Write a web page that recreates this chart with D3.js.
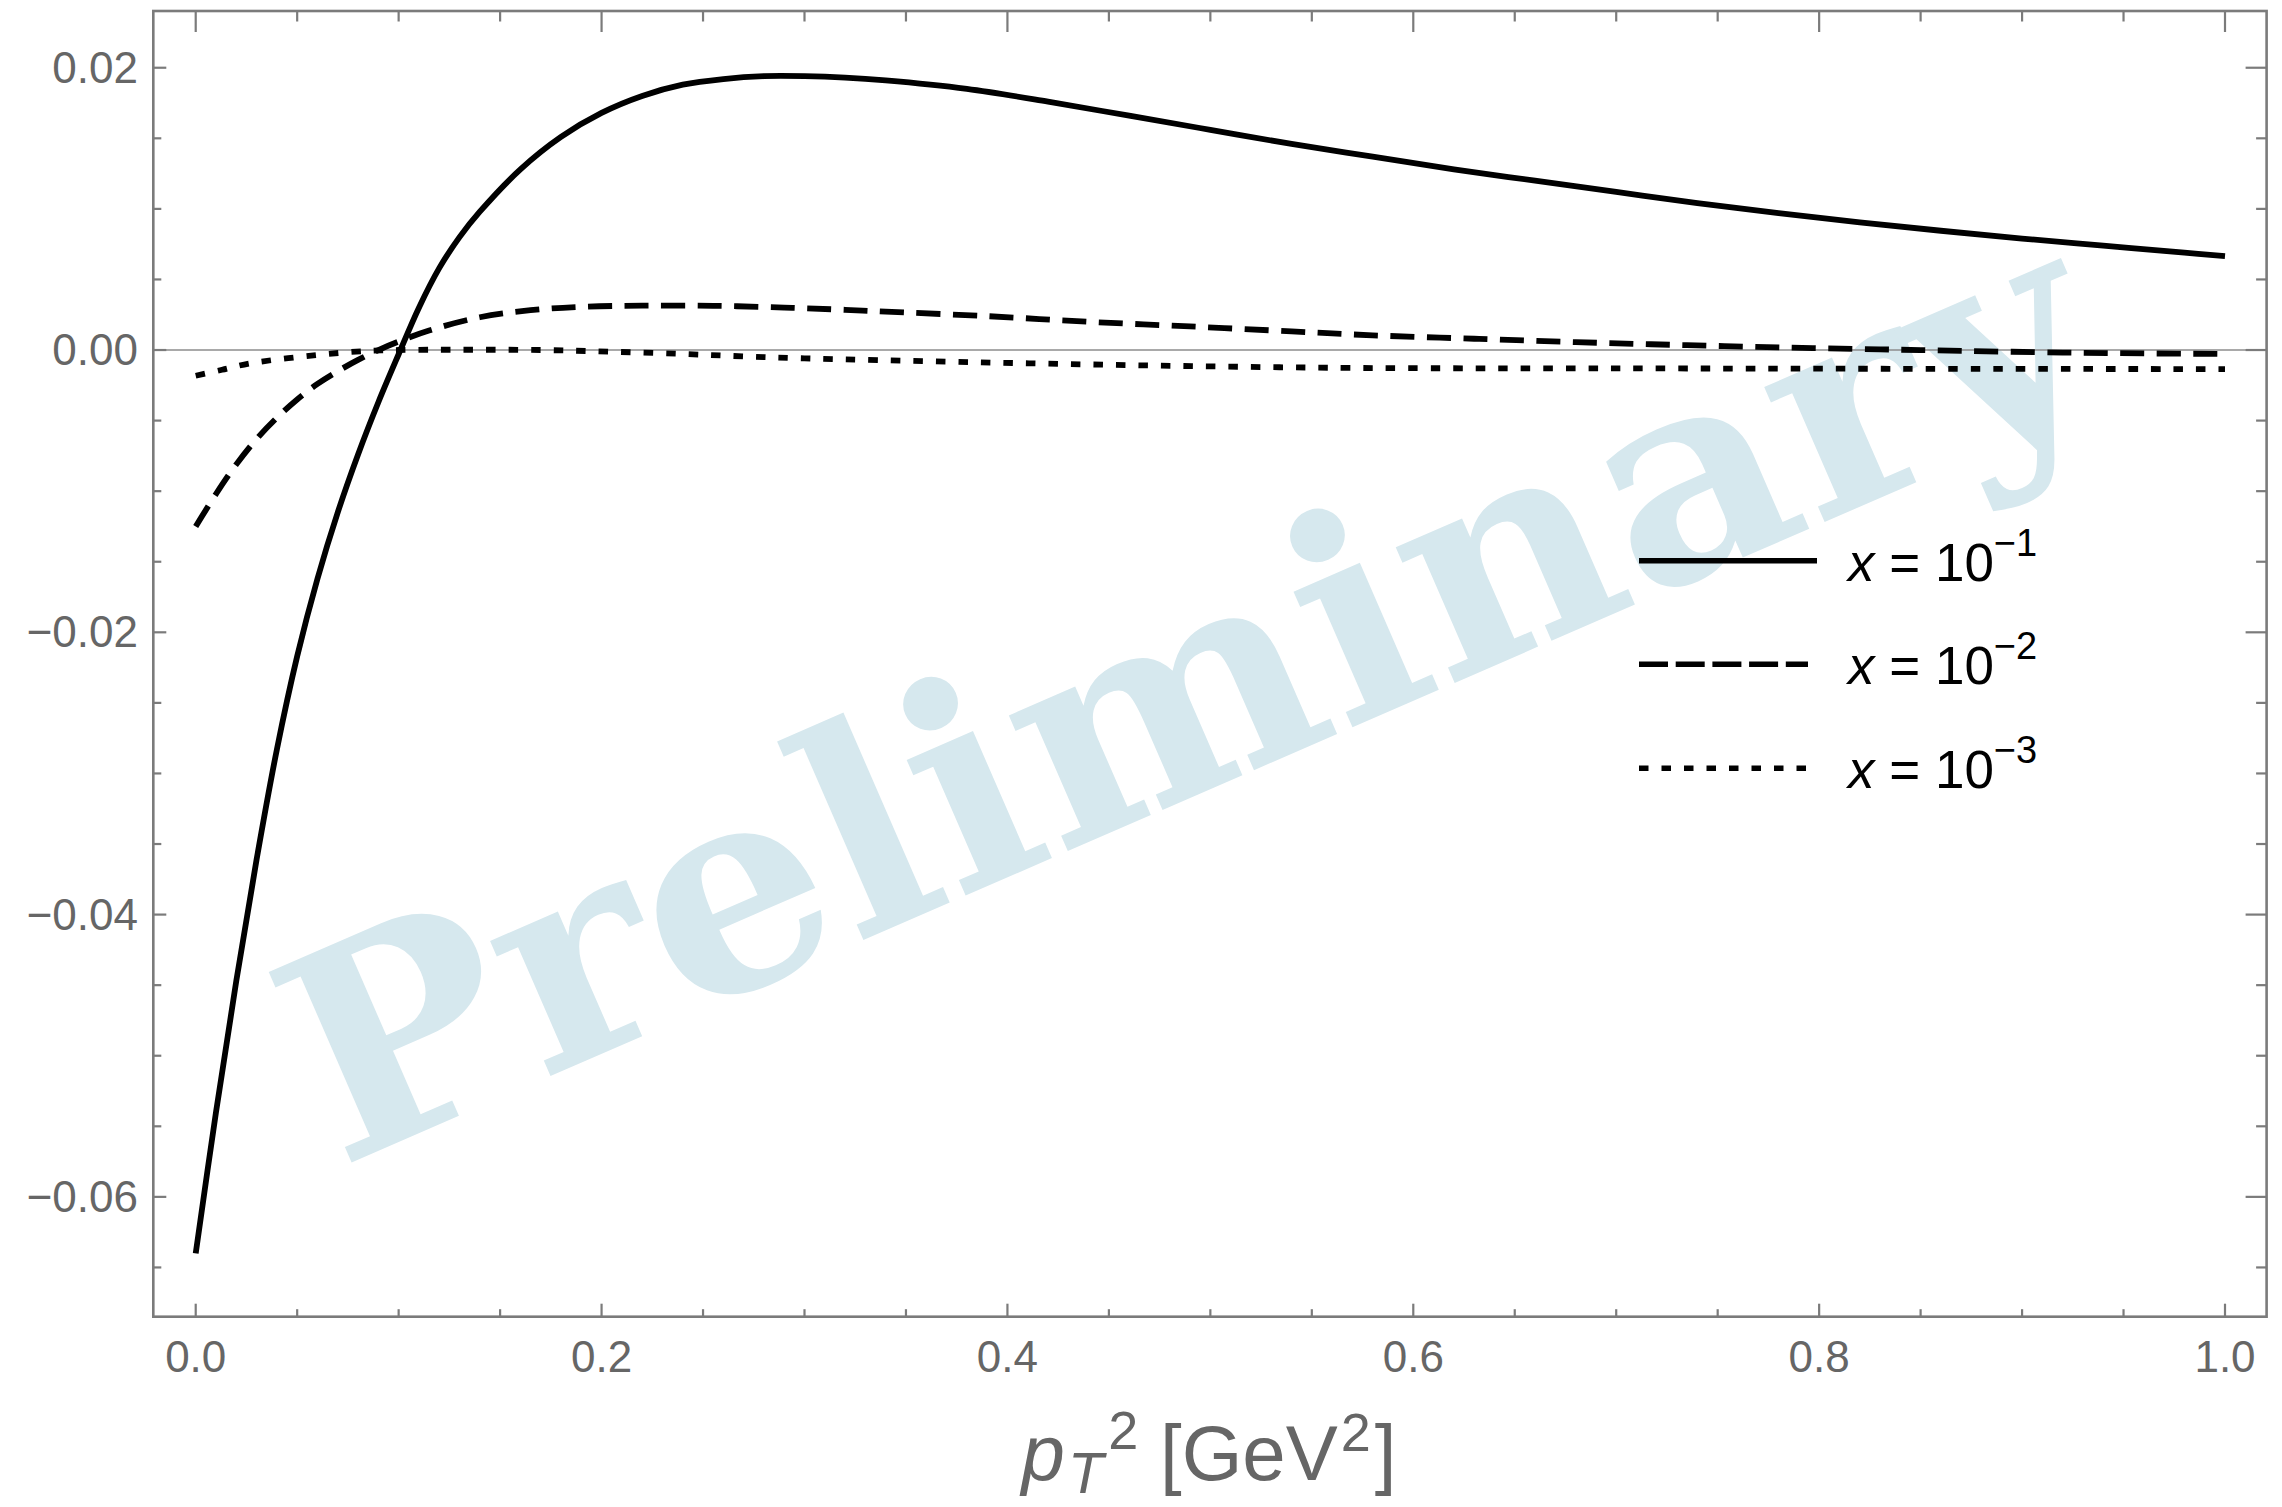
<!DOCTYPE html>
<html>
<head>
<meta charset="utf-8">
<script src="https://cdn.jsdelivr.net/npm/d3@7"></script>
<style>
  html, body { margin: 0; padding: 0; background: #ffffff; }
  svg { display: block; }
</style>
</head>
<body>
<svg id="chart" width="2282" height="1507"></svg>
<script>
// ---------------- data ----------------
const seriesNames = ["x = 10^-1", "x = 10^-2", "x = 10^-3"];
const legendExponents = ["\u22121", "\u22122", "\u22123"];

// x = 10^-1 (solid)
const solidX = [0, 0.01, 0.02, 0.03, 0.04, 0.05, 0.06, 0.07, 0.08, 0.09, 0.10, 0.11, 0.12, 0.13, 0.14, 0.16, 0.18, 0.20, 0.22, 0.24, 0.26, 0.28, 0.30, 0.32, 0.34, 0.38, 0.42, 0.46, 0.50, 0.54, 0.58, 0.62, 0.66, 0.70, 0.74, 0.78, 0.82, 0.86, 0.90, 0.94, 0.98, 1.00];
const solidY = [-0.0640, -0.0540, -0.0447, -0.0361, -0.0283, -0.0217, -0.0162, -0.0115, -0.0074, -0.0037, -0.0003, 0.0030, 0.0058, 0.0080, 0.0098, 0.0128, 0.0151, 0.0168, 0.0180, 0.0188, 0.0192, 0.0194, 0.0194, 0.0193, 0.0191, 0.0185, 0.0176, 0.0166, 0.0156, 0.0146, 0.0137, 0.0128, 0.0120, 0.0112, 0.0104, 0.0097, 0.00905, 0.00845, 0.0079, 0.0074, 0.0069, 0.00665];

// x = 10^-2 (dashed)
const dashedX = [0, 0.01, 0.02, 0.03, 0.04, 0.05, 0.06, 0.07, 0.08, 0.09, 0.10, 0.115, 0.14, 0.165, 0.19, 0.22, 0.255, 0.29, 0.32, 0.34, 0.39, 0.44, 0.49, 0.54, 0.58, 0.63, 0.68, 0.73, 0.78, 0.83, 0.87, 0.92, 0.96, 1.00];
const dashedY = [-0.0125, -0.0102, -0.0081, -0.0063, -0.0048, -0.0035, -0.0024, -0.0015, -0.0007, 0.0000, 0.0006, 0.00138, 0.00232, 0.00282, 0.00306, 0.00314, 0.00313, 0.00301, 0.00285, 0.00272, 0.0024, 0.0020, 0.00167, 0.00132, 0.00104, 0.0008, 0.00056, 0.00036, 0.00019, 0.00005, -0.00006, -0.00018, -0.00024, -0.00028];

// x = 10^-3 (dotted)
const dottedX = [0, 0.013, 0.027, 0.06, 0.084, 0.10, 0.13, 0.17, 0.205, 0.24, 0.27, 0.30, 0.337, 0.386, 0.436, 0.485, 0.534, 0.583, 0.70, 0.84, 1.00];
const dottedY = [-0.00182, -0.0014, -0.00094, -0.00035, -0.00007, 0.0, 0.00002, 0.0, -0.00012, -0.00028, -0.00045, -0.00059, -0.00072, -0.00087, -0.00101, -0.00113, -0.00122, -0.00128, -0.0013, -0.00133, -0.00135];

// ticks
const xMajorTicks = [0, 0.2, 0.4, 0.6, 0.8, 1.0];
const xTickLabels = ["0.0", "0.2", "0.4", "0.6", "0.8", "1.0"];
const xMinorTicks = [0.05, 0.1, 0.15, 0.25, 0.3, 0.35, 0.45, 0.5, 0.55, 0.65, 0.7, 0.75, 0.85, 0.9, 0.95];
const yMajorTicks = [-0.06, -0.04, -0.02, 0.0, 0.02];
const yTickLabels = ["\u22120.06", "\u22120.04", "\u22120.02", "0.00", "0.02"];
const yMinorTicks = [-0.065, -0.055, -0.05, -0.045, -0.035, -0.03, -0.025, -0.015, -0.01, -0.005, 0.005, 0.01, 0.015];

const watermarkText = "Preliminary";

// ---------------- layout ----------------
const frame = { left: 153.3, right: 2266.6, top: 11, bottom: 1316.7 };
const xDomain = [-0.0209, 1.0205];
const yDomain = [-0.06849, 0.02402];

const svg = d3.select("#chart");
const x = d3.scaleLinear().domain(xDomain).range([frame.left, frame.right]);
const y = d3.scaleLinear().domain(yDomain).range([frame.bottom, frame.top]);

const axisGray = "#7b7b7b";
const labelGray = "#666666";
const fontFam = "'Liberation Sans', Arial, Helvetica, sans-serif";

// ---------------- watermark ----------------
svg.append("text")
  .attr("transform", "translate(339,1168) rotate(-23.5)")
  .attr("x", 0).attr("y", 0)
  .attr("font-family", "'DejaVu Serif', serif")
  .attr("font-weight", "bold")
  .attr("font-size", 285)
  .attr("textLength", 1935)
  .attr("lengthAdjust", "spacingAndGlyphs")
  .attr("fill", "#d6e8ee")
  .text(watermarkText);

// ---------------- zero axis ----------------
svg.append("line")
  .attr("x1", frame.left).attr("x2", frame.right)
  .attr("y1", y(0)).attr("y2", y(0))
  .attr("stroke", "#8c8c8c").attr("stroke-width", 1.6);

// ---------------- curves ----------------
const line = d3.line().x(d => x(d[0])).y(d => y(d[1])).curve(d3.curveCatmullRom.alpha(0.5));
const series = [
  { xs: solidX, ys: solidY, dash: null },
  { xs: dashedX, ys: dashedY, dash: "24,12.5" },
  { xs: dottedX, ys: dottedY, dash: "9.5,13" }
];
const legendDash = [null, "29,7.7", "9.5,13"];

const curveG = svg.append("g");
series.forEach(s => {
  const pts = s.xs.map((v, i) => [v, s.ys[i]]);
  const p = curveG.append("path")
    .attr("d", line(pts))
    .attr("fill", "none")
    .attr("stroke", "#000")
    .attr("stroke-width", 5.8)
    .attr("stroke-linejoin", "round");
  if (s.dash) p.attr("stroke-dasharray", s.dash);
});

// ---------------- frame and ticks ----------------
const fg = svg.append("g");
fg.append("rect")
  .attr("x", frame.left).attr("y", frame.top)
  .attr("width", frame.right - frame.left).attr("height", frame.bottom - frame.top)
  .attr("fill", "none").attr("stroke", axisGray).attr("stroke-width", 2.6);

const tickW = 2.2;
xMajorTicks.forEach(t => {
  fg.append("line").attr("x1", x(t)).attr("x2", x(t)).attr("y1", frame.bottom).attr("y2", frame.bottom - 13)
    .attr("stroke", axisGray).attr("stroke-width", tickW);
  fg.append("line").attr("x1", x(t)).attr("x2", x(t)).attr("y1", frame.top).attr("y2", frame.top + 21)
    .attr("stroke", axisGray).attr("stroke-width", tickW);
});
xMinorTicks.forEach(t => {
  fg.append("line").attr("x1", x(t)).attr("x2", x(t)).attr("y1", frame.bottom).attr("y2", frame.bottom - 7.5)
    .attr("stroke", axisGray).attr("stroke-width", tickW);
  fg.append("line").attr("x1", x(t)).attr("x2", x(t)).attr("y1", frame.top).attr("y2", frame.top + 10.5)
    .attr("stroke", axisGray).attr("stroke-width", tickW);
});
yMajorTicks.forEach(t => {
  fg.append("line").attr("y1", y(t)).attr("y2", y(t)).attr("x1", frame.left).attr("x2", frame.left + 13)
    .attr("stroke", axisGray).attr("stroke-width", tickW);
  fg.append("line").attr("y1", y(t)).attr("y2", y(t)).attr("x1", frame.right).attr("x2", frame.right - 21)
    .attr("stroke", axisGray).attr("stroke-width", tickW);
});
yMinorTicks.forEach(t => {
  fg.append("line").attr("y1", y(t)).attr("y2", y(t)).attr("x1", frame.left).attr("x2", frame.left + 8)
    .attr("stroke", axisGray).attr("stroke-width", tickW);
  fg.append("line").attr("y1", y(t)).attr("y2", y(t)).attr("x1", frame.right).attr("x2", frame.right - 10.5)
    .attr("stroke", axisGray).attr("stroke-width", tickW);
});

// tick labels
xMajorTicks.forEach((t, i) => {
  fg.append("text").attr("x", x(t)).attr("y", 1372)
    .attr("text-anchor", "middle").attr("font-family", fontFam).attr("font-size", 44)
    .attr("fill", labelGray).text(xTickLabels[i]);
});
yMajorTicks.forEach((t, i) => {
  fg.append("text").attr("x", 138).attr("y", y(t) + 15)
    .attr("text-anchor", "end").attr("font-family", fontFam).attr("font-size", 44)
    .attr("fill", labelGray).text(yTickLabels[i]);
});

// axis title
const title = fg.append("text").attr("x", 1209).attr("y", 1480)
  .attr("text-anchor", "middle").attr("font-family", fontFam).attr("font-size", 78)
  .attr("fill", labelGray);
title.append("tspan").attr("font-style", "italic").text("p");
title.append("tspan").attr("font-style", "italic").attr("font-size", 58).attr("dy", 13).attr("dx", 3).text("T");
title.append("tspan").attr("font-size", 54).attr("dy", -44).attr("dx", 5).text("2");
title.append("tspan").attr("dy", 31).attr("dx", 0).text("\u00a0[GeV");
title.append("tspan").attr("font-size", 54).attr("dy", -29).attr("dx", 3).text("2");
title.append("tspan").attr("dy", 29).attr("dx", 4).text("]");

// ---------------- legend ----------------
const legendRows = [560.7, 664.3, 768.3];
const lg = svg.append("g");
legendRows.forEach((ry, i) => {
  const l = lg.append("line").attr("x1", 1639).attr("x2", i === 0 ? 1817 : 1808)
    .attr("y1", ry).attr("y2", ry).attr("stroke", "#000").attr("stroke-width", 5.6);
  if (legendDash[i]) l.attr("stroke-dasharray", legendDash[i]);
  const t = lg.append("text").attr("x", 1848).attr("y", ry + 20)
    .attr("font-family", fontFam).attr("font-size", 53).attr("fill", "#000");
  t.append("tspan").attr("font-style", "italic").text("x");
  t.append("tspan").text(" = 10");
  t.append("tspan").attr("font-size", 38).attr("dy", -25).text(legendExponents[i]);
});
</script>
</body>
</html>
